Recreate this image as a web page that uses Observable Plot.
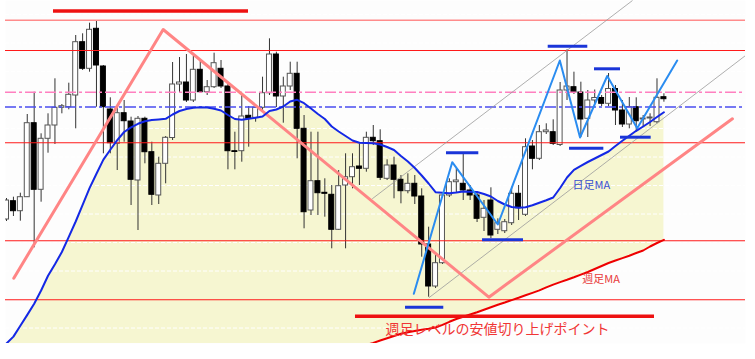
<!DOCTYPE html>
<html><head><meta charset="utf-8">
<script src="https://cdn.jsdelivr.net/npm/d3@7"></script>
<script src="https://cdn.jsdelivr.net/npm/@observablehq/plot@0.6"></script>
<style>html,body{margin:0;padding:0;background:#fff}svg{display:block}</style>
</head><body><div id="chart"></div>
<script>
const open = [124, 142.3, 132.3, 146.3, 220.3, 153.7, 204.7, 218, 235.7, 236.3,
 248, 301.3, 274.7, 314.7, 277, 234, 199.7, 230.3, 222, 163,
 224.7, 191.3, 148, 179.7, 205.5, 259, 261, 243, 273.7, 251.3,
 256.3, 274.7, 257, 192.3, 192.3, 227.7, 225.7, 235.7, 250.3, 289,
 247, 257, 269.7, 214.7, 133, 162.3, 150.7, 148.7, 113.7, 158,
 166.3, 177, 174.7, 205.7, 202.3, 164.7, 178, 163.7, 152.3, 159.7,
 147, 99, 57, 80.3, 148, 161.3, 159.7, 153, 148, 125.7,
 143, 113.7, 112.3, 120.3, 149.7, 128.7, 197, 184.7, 211.3, 211.3,
 198.5, 253, 256.3, 251, 224.7, 243, 245.5, 239.7, 254.5, 233,
 219, 236.3, 224, 225, 221.3, 246.3];
const high = [145, 146.3, 150.3, 229, 251.3, 209.7, 229.7, 264.7, 239, 260.3,
 308, 309.7, 320.3, 323, 278, 245.7, 236.3, 243, 226.3, 227,
 226.3, 201.3, 186.3, 207, 281, 286, 289, 287, 283.7, 263,
 290.3, 283, 259, 211.3, 248, 237, 238, 266.3, 304.7, 291.3,
 266.3, 281.3, 281.3, 228, 211.3, 211.3, 164.7, 158, 173, 189.7,
 189.7, 199.7, 211.3, 218, 213.7, 183.7, 186.3, 168, 169.7, 168,
 154.7, 116.3, 89.7, 149, 164.7, 174.7, 189.7, 158, 151.3, 143,
 155.7, 124.7, 124, 156.3, 158, 204.7, 203, 218, 219.7, 223.7,
 261, 293.7, 271.3, 261.3, 253, 253.5, 248, 270, 258, 243,
 246, 245.7, 228, 229.7, 264.7, 249.7];
const low = [122, 127, 122.3, 146, 95.7, 141.3, 190.3, 199, 229.7, 233.7,
 214.7, 273, 271.3, 236.3, 189.7, 189.7, 173, 201.3, 138, 113,
 179.7, 138, 139, 159.7, 203, 250, 241, 241, 250, 248,
 255, 255, 173.7, 173.7, 181.3, 196.3, 221.3, 233, 248, 236,
 220.3, 253, 184.7, 114.7, 128, 128, 126.3, 94.7, 113, 94.7,
 154.7, 158, 171.3, 198, 163, 163, 144.7, 139.7, 149.7, 139,
 86.3, 46.3, 55, 79, 146, 151, 143, 143, 121, 112,
 105, 109, 110, 118, 123, 127, 173.7, 183, 209, 198,
 197, 243, 249, 206, 206, 240, 237, 237, 218, 216,
 214.7, 211.3, 216.3, 217, 219.7, 241.3];
const close = [143, 132.3, 146.3, 220.3, 153.7, 204.7, 218, 235.7, 237.3, 248.7,
 301.3, 274.7, 313.7, 278, 236.3, 200.3, 230.3, 222.3, 163.7, 224.7,
 191.3, 148.7, 179.7, 205.7, 259, 261, 243, 273.7, 251.3, 256.3,
 280.3, 257, 192.3, 191.5, 227, 224.7, 235.7, 250.3, 289, 247,
 257, 269.7, 214.7, 131.3, 162.3, 150.3, 149.7, 113.7, 157.3, 166.3,
 176.3, 174.7, 205.7, 202.3, 165.7, 178, 163.7, 152.3, 159.7, 147,
 99, 57, 80.3, 148, 161.3, 163, 153, 148, 124.7, 134.7,
 108, 120.3, 121.3, 149.7, 135.3, 196.3, 184.7, 211.3, 213, 199.7,
 253, 257, 251, 224, 243, 245.5, 239.7, 254.5, 233, 219,
 236.3, 222.3, 225, 226, 245.7, 244.3];
const dailyMA = [0, 6.9, 17.7, 28.6, 39.7, 53, 67.7, 79.2, 91.5, 106.6,
 122, 138.7, 155.4, 169.7, 183.9, 193.8, 203.3, 211.5, 216.2, 219.7,
 222.2, 223.4, 224, 224.7, 229, 232.5, 234.5, 235.7, 236.3, 236,
 234.7, 233, 228.5, 224.5, 223.7, 224.7, 225.7, 227, 232.5, 234,
 237, 242, 243.7, 240.3, 235, 229.5, 224.5, 217, 212, 207.5,
 203, 200.7, 200.5, 200.3, 199, 196.5, 193.5, 187.5, 182, 175.5,
 168, 160, 151.3, 150.7, 150.3, 151, 152, 151.8, 151.5, 149.5,
 147, 142.5, 139, 136.5, 135.8, 136.2, 138.2, 140.8, 143.3, 146,
 155.5, 166, 173.7, 177.7, 181.5, 185, 188.5, 192, 197.5, 202.7,
 207.7, 212.7, 217, 221.5, 226.5, 231.3];
const weeklyStart = 52;
const weeklyMA = [-1.5, 0.6, 3, 5.2, 7.5, 9.8, 11.2, 12.5, 13.7, 14.7,
 16, 18.6, 21.7, 24.5, 26.8, 29, 31.2, 33.8, 36.3, 38.8,
 41, 43.4, 45.7, 48.2, 50.6, 53.1, 56.1, 58.9, 61.4, 63.7,
 66.2, 68.9, 71.5, 74.5, 77.5, 80.5, 83, 85.4, 87.8, 90.5,
 93, 97, 100.5, 103.7];

const gridLevels = [15.5, 72.5, 101, 129.5, 158, 186.5, 215, 243.5, 272, 300.5, 329];
const redLevels = [293, 200.7, 102.7, 43.7];
const topPinkLevel = 323.3;
const pinkDashLevel = 251.3;
const blueDashLevel = 236.5;

const pinkZigI = [1.05, 22.64, 69.7, 104.9];
const pinkZigV = [65.3, 314, 46.3, 224.7];
const blueZigI = [58.86, 64.41, 71, 79.96, 82.88, 86.81, 91.14, 96.92];
const blueZigV = [49.7, 181.3, 119, 283, 206, 267.5, 215.2, 283];
const channelI1 = [61.03, 52.85], channelV1 = [45.7, 144.7];
const channelI2 = [106.8, 90.46], channelV2 = [288, 343];
const blueBarI1 = [57.66, 63.58, 68.79, 78.28, 84.97, 81.36, 88.73];
const blueBarI2 = [63.19, 68.25, 74.71, 84.0, 88.73, 86.32, 93.16];
const blueBarV = [36.3, 190.7, 103.7, 297.3, 274.7, 195.3, 206.3];
const redBarI1 = [6.79, 50.43], redBarI2 = [34.97, 93.64], redBarV = [332.5, 27.3];

const labels = [
  {i: 81.8, v: 158, text: "日足MA", color: "#3a4fd0", size: 11},
  {i: 83.2, v: 64, text: "週足MA", color: "#e83a3a", size: 11},
  {i: 54.77, v: 14, text: "週足レベルの安値切り上げポイント", color: "#f03535", size: 14}
];

const candles = open.map((o, i) => ({i, o, h: high[i], l: low[i], c: close[i], up: close[i] >= open[i]}));
const rows = dailyMA.map((m, i) => ({i, ma: m, wma: i >= weeklyStart ? weeklyMA[i - weeklyStart] : 0}));
const weeklyRows = weeklyMA.map((w, k) => ({i: k + weeklyStart, w}));
const pinkZig = pinkZigI.map((i, k) => ({i, v: pinkZigV[k]}));
const blueZig = blueZigI.map((i, k) => ({i, v: blueZigV[k]}));
const channels = channelI1.map((i, k) => ({i1: i, v1: channelV1[k], i2: channelI2[k], v2: channelV2[k]}));
const blueBars = blueBarV.map((v, k) => ({i1: blueBarI1[k], i2: blueBarI2[k], v}));
const redBars = redBarV.map((v, k) => ({i1: redBarI1[k], i2: redBarI2[k], v}));
const halfW = 0.36;

const chart = Plot.plot({
  width: 755, height: 359,
  marginLeft: 5, marginRight: 10, marginTop: 0, marginBottom: 16,
  x: {domain: [-0.145, 106.79], axis: null},
  y: {domain: [0, 343], axis: null},
  style: {background: "#ffffff"},
  marks: [
    Plot.frame({fill: "#fdfdfd", stroke: null}),
    Plot.areaY(rows, {x: "i", y1: "wma", y2: "ma", fill: "#f6f6d1", clip: true}),
    Plot.ruleY(gridLevels, {stroke: "#ffffff", strokeWidth: 1, strokeDasharray: "4,2"}),
    Plot.ruleX(candles, {x: "i", y1: "l", y2: "h", stroke: "#333", strokeWidth: 1, clip: true}),
    Plot.rect(candles, {x1: d => d.i - halfW, x2: d => d.i + halfW, y1: "o", y2: "c",
      fill: d => d.up ? "#ffffff" : "#000000", stroke: d => d.up ? "#555" : "#000", strokeWidth: 1, clip: true}),
    Plot.ruleY(redLevels, {y: d => d, stroke: "#ff1a1a", strokeWidth: 1.1}),
    Plot.ruleY([topPinkLevel], {stroke: "#ff8c8c", strokeWidth: 1.6}),
    Plot.ruleY([pinkDashLevel], {stroke: "#ff80c0", strokeWidth: 1.6, strokeDasharray: "11,3,3,3"}),
    Plot.ruleY([blueDashLevel], {stroke: "#4a4cf0", strokeWidth: 1.3, strokeDasharray: "11,3,3,3"}),
    Plot.link(channels, {x1: "i1", y1: "v1", x2: "i2", y2: "v2", stroke: "#9a9a9a", strokeWidth: 0.8, clip: true}),
    Plot.line(pinkZig, {x: "i", y: "v", stroke: "#ff8585", strokeWidth: 3, clip: true}),
    Plot.line(weeklyRows, {x: "i", y: "w", stroke: "#ee0000", strokeWidth: 2, clip: true}),
    Plot.line(rows, {x: "i", y: "ma", stroke: "#1428e6", strokeWidth: 2, clip: true}),
    Plot.line(blueZig, {x: "i", y: "v", stroke: "#2a8cf0", strokeWidth: 2, clip: true}),
    Plot.ruleY(blueBars, {x1: "i1", x2: "i2", y: "v", stroke: "#1a35d8", strokeWidth: 3}),
    Plot.ruleY(redBars, {x1: "i1", x2: "i2", y: "v", stroke: "#ee1111", strokeWidth: 3.5}),
    Plot.text(labels, {x: "i", y: "v", text: "text", fill: "color", fontSize: d => d.size,
      textAnchor: "start", lineAnchor: "middle", fontFamily: "'Noto Sans CJK JP', sans-serif"})
  ]
});
document.getElementById("chart").appendChild(chart);
</script>
</body></html>
